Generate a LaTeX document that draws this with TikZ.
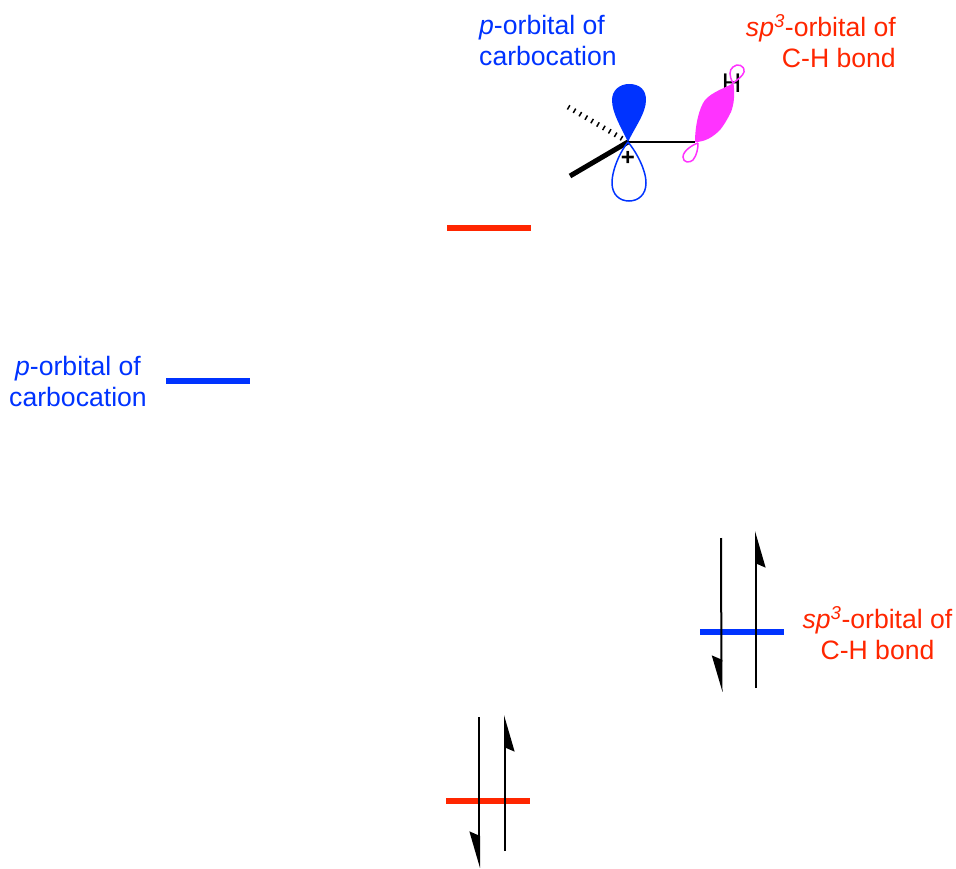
\documentclass[tikz,border=0pt]{standalone}
\usepackage{fontspec}
\setmainfont{Liberation Sans}
\usetikzlibrary{arrows.meta}
\definecolor{orbblue}{RGB}{0,51,255}
\definecolor{orbred}{RGB}{255,38,0}
\definecolor{orbpink}{RGB}{255,51,255}
\tikzset{
  label text/.style={font=\fontsize{26.6}{31}\selectfont, inner sep=0pt},
  level line/.style={line width=5.5pt},
  spin/.style={line width=2pt, -{Stealth[harpoon,swap,length=33pt,width=19pt,inset=4pt]}}
}
\begin{document}
\begin{tikzpicture}[x=1pt,y=-1pt]
          \useasboundingbox (0,0) rectangle (956,869);

          % Niveaux
          \foreach \name/\xa/\yy/\col in {
            topred/447/228/orbred,
            leftblue/166/381/orbblue,
            rightblue/700/632/orbblue,
            lowred/446/801/orbred} {
            \coordinate (\name a) at (\xa,\yy);
            \coordinate (\name b) at (\xa+84,\yy);
            \draw[level line,\col] (\name a) -- (\name b);
          }

          % Spins
          \foreach \name/\xa/\ya/\xb/\yb in {
            rightdown/721/538/721.5/692,
            rightup/756/688/756/531,
            lowdown/479/717/479/868,
            lowup/505/851/505/715} {
            \coordinate (\name a) at (\xa,\ya);
            \coordinate (\name b) at (\xb,\yb);
            \draw[spin] (\name a) -- (\name b);
          }

          % Textes
          \node[label text,orbblue,align=left,anchor=west] (toplabel) at (479,40.5) {\textit{p}-orbital of\\carbocation};
          \node[label text,orbred,align=right,anchor=east] (sigmalabel) at (896,41.5) {\textit{sp\textsuperscript{3}}-orbital of\\C-H bond};
          \node[label text,orbblue,align=center] (leftlabel) at (78,381.5) {\textit{p}-orbital of\\carbocation};
          \node[label text,orbred,align=center] (rightlabel) at (877.5,633.5) {\textit{sp\textsuperscript{3}}-orbital of\\C-H bond};

          % Carbone et liaisons
          \coordinate (carbon) at (628,142);
          \coordinate (hashend) at (568,107);
          \coordinate (wedgeend) at (570,176);
          \coordinate (bondend) at (695,142);
          \draw[line width=5pt,dash pattern=on 1.5pt off 5.3pt] (carbon) -- (hashend);
          \draw[line width=5pt] (carbon) -- (wedgeend);
          \draw[line width=1.5pt] (carbon) -- (bondend);
          \node[font=\fontsize{24}{24}\selectfont\bfseries,inner sep=0pt] (plus) at (628,158) {+};
          \node[font=\fontsize{27}{27}\selectfont,inner sep=0pt] (hatom) at (731.5,83) {H};

          % Orbitale p
          \fill[orbblue] (carbon) .. controls (621,127) and (612,113) .. (612,100)
            .. controls (612,90) and (620,84) .. (629,84)
            .. controls (640,84) and (646,90) .. (646,100)
            .. controls (646,113) and (635,127) .. (carbon);
          \draw[orbblue,line width=1.5pt] (carbon) .. controls (622,149) and (612,168) .. (612,183)
            .. controls (612,195) and (620,201) .. (629,201)
            .. controls (638,201) and (646,195) .. (646,183)
            .. controls (646,168) and (634,149) .. (carbon);

          % Orbitale sp3
          \fill[orbpink] (695,142) .. controls (695,126) and (699,108) .. (705,100)
            .. controls (712,92) and (725,88) .. (733.5,83)
            .. controls (735,95) and (734,104) .. (731,112)
            .. controls (727,120) and (724,125) .. (720,130)
            .. controls (713,137) and (705,142) .. (695,142);
          \draw[orbpink,line width=1.5pt] (698,143) .. controls (692,145) and (683,151) .. (683,157)
            .. controls (683,163) and (690,163) .. (693,160)
            .. controls (697,155) and (698,148) .. (698,143);
          \draw[orbpink,line width=1.5pt] (733,83) .. controls (729,76) and (729,70) .. (733,67)
            .. controls (737,63) and (745,65) .. (744,72)
            .. controls (743,76) and (737,80) .. (733,83);
\end{tikzpicture}
\end{document}
